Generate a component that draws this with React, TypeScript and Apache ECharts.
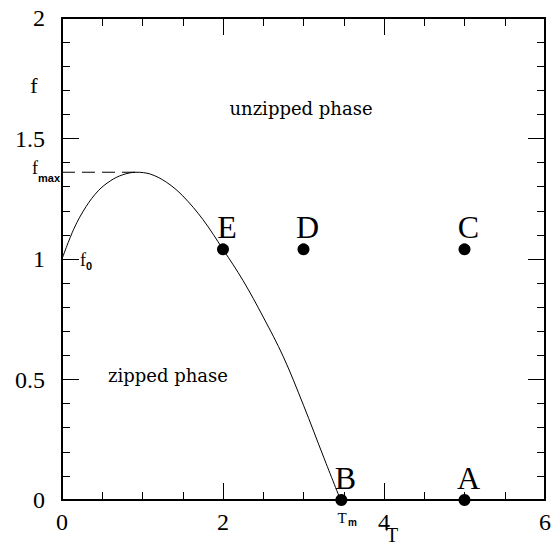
import React, { useEffect, useRef } from 'react';
import * as echarts from 'echarts';

// Phase boundary curve f(T)
const curveT = [0, 0.15, 0.3, 0.45, 0.6, 0.75, 0.92, 1.1, 1.3, 1.5, 1.75, 2.0, 2.25, 2.5, 2.75, 3.0, 3.25, 3.46];
const curveF = [1, 1.127, 1.218, 1.283, 1.324, 1.349, 1.36, 1.352, 1.318, 1.262, 1.164, 1.04, 0.91, 0.759, 0.594, 0.393, 0.178, 0];

// f_max dashed guide
const fMax = 1.36;
const tAtMax = 0.92;

// labelled state points
const pointNames = ['A', 'B', 'C', 'D', 'E'];
const pointT = [5, 3.47, 5, 3, 2];
const pointF = [0, 0, 1.04, 1.04, 1.04];

const xTicks = { min: 0, max: 6, interval: 2 };
const yTicks = { min: 0, max: 2, interval: 0.5 };

export default function App() {
  const ref = useRef<HTMLDivElement>(null);
  useEffect(() => {
    const chart = echarts.init(ref.current!, null, { renderer: 'svg' });
    const axisLine = { show: true, onZero: false, lineStyle: { color: '#000', width: 2 } };
    const tick = { show: true, inside: true, length: 17, lineStyle: { color: '#000', width: 1 } };
    const minor = (n: number) => ({ show: true, splitNumber: n, length: 8, lineStyle: { color: '#000', width: 1 } });
    const label = { color: '#000', fontFamily: 'Liberation Serif', fontSize: 24 };
    const serif = 'Liberation Serif';
    const txt = (text: string, x: number, y: number, size: number, opts: any = {}) => ({
      type: 'text', x, y, silent: true,
      style: {
        text, fill: '#000', fontFamily: opts.family || serif, fontSize: size,
        fontWeight: opts.weight || 'normal',
        align: opts.align || 'center', verticalAlign: 'middle',
      },
    });
    chart.setOption({
      animation: false,
      backgroundColor: '#fff',
      grid: { left: 62, top: 18, width: 483, height: 482 },
      xAxis: [
        {
          type: 'value', ...xTicks, position: 'bottom',
          axisLine, axisTick: tick, minorTick: minor(4), splitLine: { show: false },
          axisLabel: { ...label, margin: 10 },
        },
        {
          type: 'value', ...xTicks, position: 'top',
          axisLine, axisTick: tick, minorTick: minor(4), splitLine: { show: false },
          axisLabel: { show: false },
        },
      ],
      yAxis: [
        {
          type: 'value', ...yTicks, position: 'left',
          axisLine, axisTick: tick, minorTick: minor(5), splitLine: { show: false },
          axisLabel: { ...label, margin: 17 },
        },
        {
          type: 'value', ...yTicks, position: 'right',
          axisLine, axisTick: tick, minorTick: minor(5), splitLine: { show: false },
          axisLabel: { show: false },
        },
      ],
      series: [
        {
          type: 'line',
          data: curveT.map((t, i) => [t, curveF[i]]),
          smooth: 0.35,
          showSymbol: false,
          lineStyle: { color: '#000', width: 1 },
          silent: true,
        },
        {
          type: 'line',
          data: [[0, fMax], [tAtMax, fMax]],
          showSymbol: false,
          lineStyle: { color: '#000', width: 1, type: [13, 7] },
          silent: true,
        },
        {
          type: 'scatter',
          data: pointT.map((t, i) => ({ value: [t, pointF[i]], name: pointNames[i] })),
          symbolSize: 12,
          itemStyle: { color: '#000', opacity: 1 },
          clip: false,
          label: {
            show: true, position: 'top', distance: 0, offset: [4, 0],
            formatter: (p: any) => p.name,
            color: '#000', opacity: 1, fontFamily: serif, fontSize: 32,
          },
          silent: true,
        },
      ],
      graphic: [
        txt('f', 34, 85, 22),
        txt('f', 35, 168, 18),
        txt('max', 38, 178, 11, { align: 'left', family: 'Liberation Sans', weight: 'bold' }),
        txt('f', 83, 260, 18),
        txt('0', 86, 266, 11, { align: 'left', family: 'Liberation Sans', weight: 'bold' }),
        txt('T', 342, 518, 15),
        txt('m', 348, 522, 10, { align: 'left', family: 'Liberation Sans', weight: 'bold' }),
        txt('T', 392, 535, 20),
        txt('unzipped phase', 301, 108, 18, { family: 'DejaVu Serif' }),
        txt('zipped phase', 168, 375, 18, { family: 'DejaVu Serif' }),
      ],
    });
    return () => chart.dispose();
  }, []);
  return (
    <div
      ref={ref}
      style={{ position: 'fixed', left: 0, top: 0, width: 557, height: 546, background: '#fff' }}
    />
  );
}
